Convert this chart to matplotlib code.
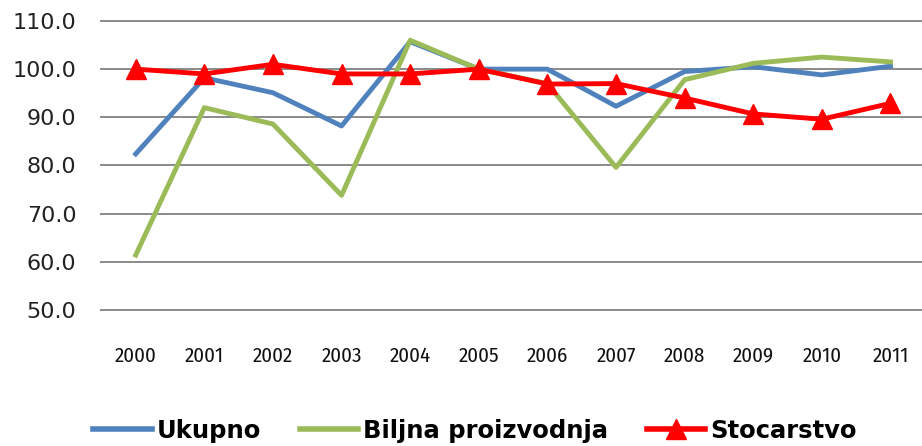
import matplotlib.pyplot as plt
from matplotlib.lines import Line2D

years = ["2000", "2001", "2002", "2003", "2004", "2005",
         "2006", "2007", "2008", "2009", "2010", "2011"]
ukupno = [82.4, 98.2, 95.1, 88.2, 105.7, 100.0, 100.0, 92.3, 99.5, 100.5, 98.8, 100.6]
biljna = [61.4, 92.0, 88.6, 73.8, 106.0, 100.0, 97.0, 79.6, 97.8, 101.2, 102.5, 101.5]
stocarstvo = [100.0, 99.0, 101.0, 99.0, 99.0, 100.0, 96.9, 97.0, 94.0, 90.7, 89.6, 92.9]
yticks = [50, 60, 70, 80, 90, 100, 110]

narrow = ["Fira Sans Condensed", "DejaVu Sans"]

fig = plt.figure(figsize=(9.22, 4.46), dpi=100)
ax = fig.add_axes([0.110, 0.305, 0.893, 0.648])

x = list(range(len(years)))
ax.plot(x, ukupno, color="#4F81BD", lw=3.5, solid_joinstyle="round", zorder=3)
ax.plot(x, biljna, color="#9BBB59", lw=3.5, solid_joinstyle="round", zorder=3)
ax.plot(x, stocarstvo, color="#FF0000", lw=3.5, marker="^", ms=14,
        solid_joinstyle="round", zorder=4)

ax.set_xlim(-0.5, 11.5)
ax.set_ylim(50, 110)
ax.set_yticks(yticks)
ax.set_yticklabels([f"{v:.1f}" for v in yticks], fontsize=16, color="#222222")
ax.set_xticks(x)
ax.set_xticklabels(years, fontsize=15, family=narrow, color="#111111")
ax.tick_params(axis="both", length=0)
ax.tick_params(axis="y", pad=18)
ax.tick_params(axis="x", pad=26)
ax.grid(axis="y", color="#8a8a8a", lw=1.4)
for gl in ax.get_ygridlines():
    gl.set_clip_on(False)
ax.set_axisbelow(True)
for s in ax.spines.values():
    s.set_visible(False)

handles = [
    Line2D([], [], color="#4F81BD", lw=4),
    Line2D([], [], color="#9BBB59", lw=4),
    Line2D([], [], color="#FF0000", lw=4, marker="^", ms=14),
]
fig.legend(handles, ["Ukupno", "Biljna proizvodnja", "Stocarstvo"],
           loc="center", bbox_to_anchor=(0.515, 0.034), ncol=3, frameon=False,
           prop={"weight": "bold", "size": 17.5},
           handlelength=2.4, handletextpad=0.2, columnspacing=1.6)

fig.savefig("out.png", dpi=100)
